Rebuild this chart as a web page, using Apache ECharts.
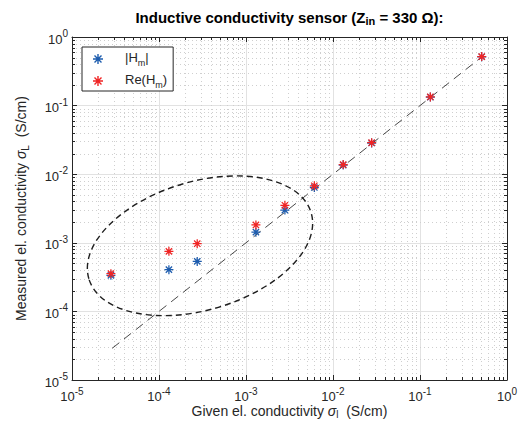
<!DOCTYPE html>
<html><head><meta charset="utf-8">
<script src="https://cdn.jsdelivr.net/npm/echarts@6/dist/echarts.min.js"></script>
<style>html,body{margin:0;padding:0;background:#fff}#c{width:519px;height:425px}</style>
</head><body><div id="c"></div>
<script>
// ---- data ----
const sigmaGiven = [2.8e-5, 1.3e-4, 2.75e-4, 1.3e-3, 2.8e-3, 6.1e-3, 1.31e-2, 2.78e-2, 0.1315, 0.512];
const absHm      = [3.36e-4, 4.06e-4, 5.36e-4, 1.43e-3, 3.0e-3, 6.4e-3, 1.36e-2, 2.85e-2, 0.133, 0.515];
const reHm       = [3.55e-4, 7.5e-4, 9.7e-4, 1.82e-3, 3.52e-3, 6.77e-3, 1.38e-2, 2.88e-2, 0.1336, 0.518];
const refLineX = [2.9e-5, 0.5];
const refLineY = [2.9e-5, 0.5];
const ellipseCenter   = [2.96e-4, 9.05e-4];
const ellipseMajorEnd = [5.6e-3, 2.74e-3];
const ellipseMinorEnd = [4.83e-4, 1.15e-4];
const axisMin = 1e-5, axisMax = 1;
const tickExponents = [-5, -4, -3, -2, -1, 0];
const minorMultipliers = [2, 3, 4, 5, 6, 7, 8, 9];
const seriesNames = ['|Hm|', 'Re(Hm)'];
const legendLabels = {'|Hm|': '{t||H}{s|m}{t||}', 'Re(Hm)': '{t|Re(H}{s|m}{t|)}'};

const minorTicks = [];
tickExponents.slice(0, -1).forEach(e => minorMultipliers.forEach(m => minorTicks.push(m * Math.pow(10, e))));

const FONT = '"Liberation Sans", Arial, Helvetica, sans-serif';
const TXT = '#262626';
const STAR = 'path://M-5 -0.7L5 -0.7L5 0.7L-5 0.7ZM-0.7 -5L0.7 -5L0.7 5L-0.7 5Z' +
  'M-3.005 -3.995L3.995 3.005L3.005 3.995L-3.995 -3.005Z' +
  'M-3.005 3.995L-3.995 3.005L3.005 -3.995L3.995 -3.005Z';

const G = {left: 72, right: 12, top: 37, bottom: 45};

function expLabel(v) {
  const e = Math.round(Math.log10(v));
  return '{b|10}{s|' + e + '}';
}
const tickRich = {
  b: {fontSize: 13, lineHeight: 17, verticalAlign: 'bottom', color: TXT, fontFamily: FONT},
  s: {fontSize: 10, lineHeight: 10, verticalAlign: 'top', color: TXT, fontFamily: FONT}
};

function mkAxis(pos, isX, main) {
  return {
    type: 'log', logBase: 10, min: axisMin, max: axisMax, position: pos,
    gridIndex: 0,
    axisLine: {show: true, onZero: false, lineStyle: {color: TXT, width: 1}},
    axisTick: {show: true, inside: true, length: 5, lineStyle: {color: TXT, width: 1}},
    axisLabel: main ? {show: true, formatter: expLabel, rich: tickRich, margin: isX ? 6 : 4, hideOverlap: false} : {show: false},
    splitLine: main ? {show: true, lineStyle: {color: '#e2e2e2', width: 1}} : {show: false},
    minorTick: {show: false}, minorSplitLine: {show: false}
  };
}

const chart = echarts.init(document.getElementById('c'), null, {renderer: 'svg'});

function renderMinor(params, api) {
  const cs = params.coordSys;
  const x0 = cs.x, y0 = cs.y, w = cs.width, h = cs.height;
  const ch = [];
  const gridStyle = {stroke: '#cfcfcf', lineWidth: 1, lineDash: [1, 3]};
  const tickStyle = {stroke: TXT, lineWidth: 1};
  minorTicks.forEach(v => {
    const px = Math.round(api.coord([v, axisMin])[0]) + 0.5;
    ch.push({type: 'line', shape: {x1: px, y1: y0, x2: px, y2: y0 + h}, style: gridStyle});
    ch.push({type: 'line', shape: {x1: px, y1: y0 + h, x2: px, y2: y0 + h - 3}, style: tickStyle});
    ch.push({type: 'line', shape: {x1: px, y1: y0, x2: px, y2: y0 + 3}, style: tickStyle});
    const py = Math.round(api.coord([axisMin, v])[1]) + 0.5;
    ch.push({type: 'line', shape: {x1: x0, y1: py, x2: x0 + w, y2: py}, style: gridStyle});
    ch.push({type: 'line', shape: {x1: x0, y1: py, x2: x0 + 3, y2: py}, style: tickStyle});
    ch.push({type: 'line', shape: {x1: x0 + w, y1: py, x2: x0 + w - 3, y2: py}, style: tickStyle});
  });
  return {type: 'group', children: ch, silent: true};
}

function renderEllipse(params, api) {
  const c = api.coord(ellipseCenter);
  const a = api.coord(ellipseMajorEnd);
  const b = api.coord(ellipseMinorEnd);
  const rx = Math.hypot(a[0] - c[0], a[1] - c[1]);
  const ry = Math.hypot(b[0] - c[0], b[1] - c[1]);
  const rot = Math.atan2(-(a[1] - c[1]), a[0] - c[0]);
  return {
    type: 'ellipse', x: c[0], y: c[1], rotation: rot,
    shape: {cx: 0, cy: 0, rx: rx, ry: ry},
    style: {fill: 'none', stroke: '#1e1e1e', lineWidth: 1.4, lineDash: [6, 4]},
    silent: true
  };
}

const nameRich = {
  a: {fontSize: 14, lineHeight: 16, verticalAlign: 'top', color: TXT, fontFamily: FONT},
  i: {fontSize: 14, lineHeight: 16, verticalAlign: 'top', fontStyle: 'italic', color: TXT, fontFamily: FONT},
  u: {fontSize: 10, lineHeight: 10, verticalAlign: 'bottom', color: TXT, fontFamily: FONT}
};

const option = {
  animation: false,
  backgroundColor: '#ffffff',
  textStyle: {fontFamily: FONT, color: TXT},
  grid: Object.assign({containLabel: false, outerBoundsMode: 'none'}, G),
  graphic: [{
    type: 'text', x: G.left + (519 - G.left - G.right) / 2, y: 18,
    style: {
      text: '{b|Inductive conductivity sensor (Z}{bs|in}{b| = 330 Ω):}',
      align: 'center', verticalAlign: 'middle', fill: '#000',
      rich: {
        b: {fontSize: 15, fontWeight: 'bold', lineHeight: 17, verticalAlign: 'top', fontFamily: FONT, color: '#111'},
        bs: {fontSize: 11, fontWeight: 'bold', lineHeight: 11, verticalAlign: 'bottom', fontFamily: FONT, color: '#111'}
      }
    }
  }],
  legend: {
    show: true, orient: 'vertical', left: 82, top: 47,
    padding: [4, 6, 2, 11], itemGap: 6, itemWidth: 24, itemHeight: 10,
    backgroundColor: '#fff', borderColor: TXT, borderWidth: 1, borderRadius: 0,
    data: [{name: seriesNames[0], icon: STAR}, {name: seriesNames[1], icon: STAR}],
    formatter: n => legendLabels[n],
    textStyle: {
      color: TXT, padding: [0, 0, 0, 10],
      rich: {
        t: {fontSize: 13, lineHeight: 16, verticalAlign: 'top', color: TXT, fontFamily: FONT},
        s: {fontSize: 9, lineHeight: 9, verticalAlign: 'bottom', color: TXT, fontFamily: FONT}
      }
    }
  },
  xAxis: [
    Object.assign(mkAxis('bottom', true, true), {
      name: '{a|Given el. conductivity }{i|σ}{u|l}{a|  (S/cm)}',
      nameLocation: 'middle', nameGap: 23.5, nameMoveOverlap: false,
      nameTextStyle: {rich: nameRich}
    }),
    mkAxis('top', true, false)
  ],
  yAxis: [
    Object.assign(mkAxis('left', false, true), {
      name: '{a|Measured el. conductivity }{i|σ}{u|L}{a|  (S/cm)}',
      nameLocation: 'middle', nameGap: 42, nameMoveOverlap: false,
      nameTextStyle: {rich: nameRich}
    }),
    mkAxis('right', false, false)
  ],
  series: [
    {
      type: 'custom', name: 'minor', xAxisIndex: 0, yAxisIndex: 0, z: 0, silent: true,
      renderItem: renderMinor, data: [[axisMin, axisMin]], clip: false
    },
    {
      type: 'line', name: 'ref', xAxisIndex: 0, yAxisIndex: 0, z: 1, silent: true,
      data: refLineX.map((x, i) => [x, refLineY[i]]), showSymbol: false, symbol: 'none',
      lineStyle: {color: '#333', width: 0.9, type: [9, 6]}
    },
    {
      type: 'custom', name: 'ellipse', xAxisIndex: 0, yAxisIndex: 0, z: 2, silent: true,
      renderItem: renderEllipse, data: [ellipseCenter], clip: false
    },
    {
      type: 'scatter', name: seriesNames[0], z: 3,
      data: sigmaGiven.map((x, i) => [x, absHm[i]]),
      symbol: STAR, symbolSize: 9, itemStyle: {color: '#1d5cae', opacity: 1}
    },
    {
      type: 'scatter', name: seriesNames[1], z: 4,
      data: sigmaGiven.map((x, i) => [x, reHm[i]]),
      symbol: STAR, symbolSize: 9, itemStyle: {color: '#f02424', opacity: 1}
    }
  ]
};
chart.setOption(option);
</script>
</body></html>
